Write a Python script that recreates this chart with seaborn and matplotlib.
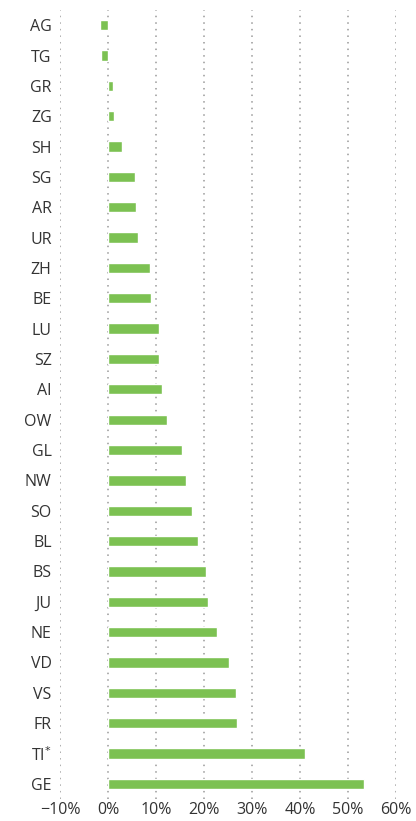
import matplotlib
matplotlib.use('Agg')
import matplotlib.pyplot as plt
import seaborn as sns
import pandas as pd

# cantons, top to bottom as in the chart
cantons = ['AG', 'TG', 'GR', 'ZG', 'SH', 'SG', 'AR', 'UR', 'ZH', 'BE', 'LU', 'SZ', 'AI',
           'OW', 'GL', 'NW', 'SO', 'BL', 'BS', 'JU', 'NE', 'VD', 'VS', 'FR', 'TI$^{*}$', 'GE']
# change in percent
values = [-1.7, -1.5, 1.0, 1.2, 3.0, 5.6, 5.9, 6.3, 8.8, 9.0, 10.6, 10.6, 11.3,
          12.2, 15.5, 16.3, 17.4, 18.8, 20.4, 20.9, 22.7, 25.3, 26.7, 26.9, 41.0, 53.3]
xticks = [-10, 0, 10, 20, 30, 40, 50, 60]

df = pd.DataFrame({'canton': cantons, 'value': values})

sns.set_style('white')
plt.rcParams['font.family'] = ['Open Sans', 'DejaVu Sans']
plt.rcParams['axes.unicode_minus'] = True

fig = plt.figure(figsize=(4.16, 8.21), dpi=100)
ax = fig.add_axes([60/416, 1 - 799/821, 336/416, 789/821])

sns.barplot(data=df, x='value', y='canton', orient='h', color='#7cc152',
            saturation=1, width=0.34, ax=ax, zorder=3)

ax.set_xlim(-10, 60)
ax.set_ylim(25.5, -0.5)
ax.set_xticks(xticks)
ax.set_xticklabels([f'{t}%'.replace('-', '\u2212') for t in xticks])
ax.set_xlabel('')
ax.set_ylabel('')
ax.xaxis.grid(True, color='#999999', linestyle=(0, (1, 3.3)), linewidth=1.1, zorder=0)
ax.yaxis.grid(False)
for s in ax.spines.values():
    s.set_visible(False)
ax.tick_params(axis='both', length=0, labelsize=11.5, colors='#333333')
ax.tick_params(axis='y', pad=6)
ax.tick_params(axis='x', pad=2)

fig.savefig('out.png', dpi=100)
